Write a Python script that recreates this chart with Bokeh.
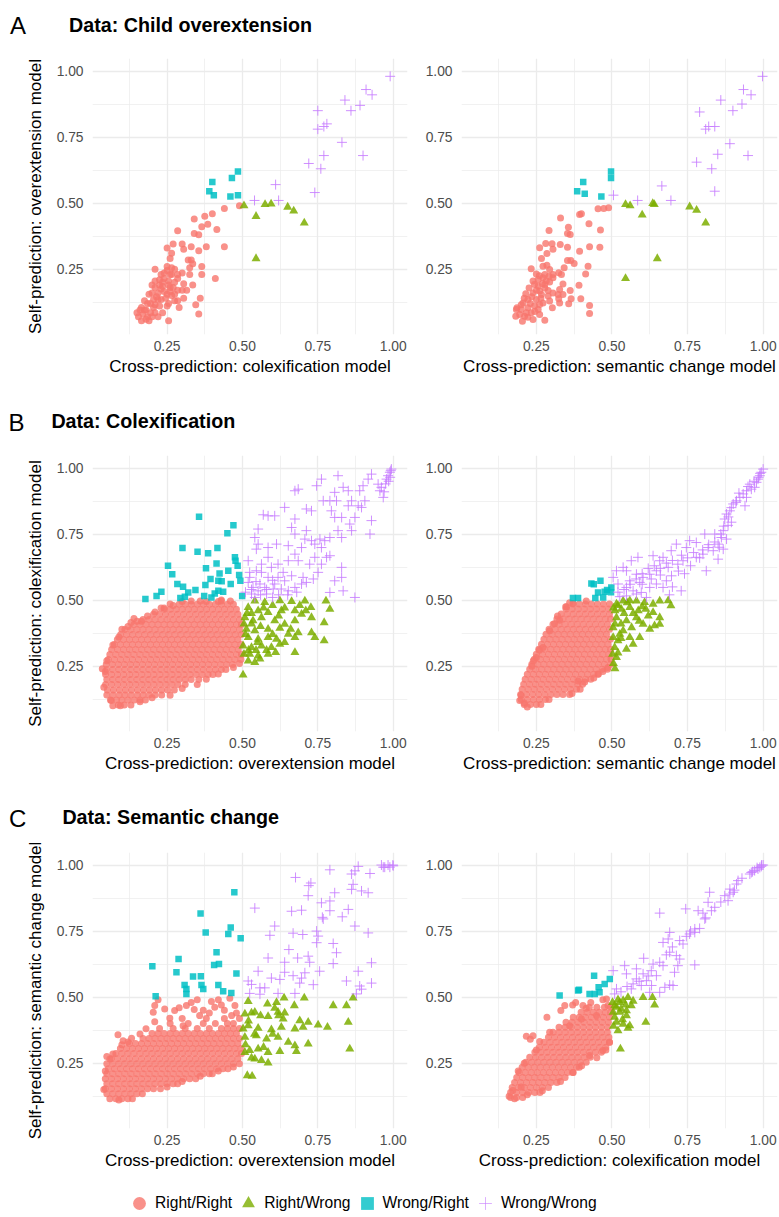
from bokeh.plotting import figure
from bokeh.layouts import column, row
from bokeh.models import Range1d, FixedTicker, PrintfTickFormatter, Legend, LegendItem
from bokeh.core.properties import value
from bokeh.embed import file_html
from bokeh.resources import INLINE

FONT = "Liberation Sans"
COL_RR, COL_RW, COL_WR, COL_WW = "#F8766D", "#7CAE00", "#00BFC4", "#C77CFF"
CATEGORIES = ["Right/Right", "Right/Wrong", "Wrong/Right", "Wrong/Wrong"]
MAJOR_TICKS = [0.25, 0.5, 0.75, 1.0]
MINOR_TICKS = [0.125, 0.375, 0.625, 0.875]

# ---------------- A: Data: Child overextension ----------------
A1_WW = [(0.99,0.98),(0.91,0.93),(0.93,0.91),(0.84,0.89),(0.89,0.87),(0.86,0.85),(0.75,0.85),(0.75,0.78),(0.77,0.79),(0.78,0.80),(0.83,0.73),(0.77,0.68),(0.90,0.68),(0.72,0.65),(0.76,0.63),(0.61,0.57),(0.74,0.54),(0.54,0.51),(0.62,0.51)]
A1_RW = [(0.505,0.49),(0.545,0.45),(0.575,0.495),(0.595,0.497),(0.65,0.485),(0.67,0.47),(0.705,0.425),(0.545,0.29)]
A1_WR = [(0.40,0.58),(0.39,0.545),(0.405,0.53),(0.465,0.595),(0.485,0.62),(0.46,0.525),(0.485,0.53)]
A1_RR = [(0.49,0.49),(0.44,0.48),(0.40,0.46),(0.375,0.45),(0.34,0.44),(0.385,0.42),(0.365,0.41),(0.415,0.40),(0.285,0.395),(0.34,0.385),(0.355,0.38),(0.44,0.335),(0.38,0.335),(0.33,0.335),(0.27,0.345),(0.30,0.345),(0.305,0.325),(0.25,0.33),(0.355,0.32),(0.265,0.31),(0.26,0.29),(0.32,0.285),(0.33,0.285),(0.335,0.27),(0.365,0.26),(0.325,0.255),(0.365,0.23),(0.41,0.215),(0.325,0.23),(0.30,0.235),(0.275,0.25),(0.25,0.26),(0.21,0.25),(0.23,0.23),(0.265,0.23),(0.285,0.23),(0.305,0.195),(0.335,0.19),(0.315,0.17),(0.285,0.17),(0.275,0.155),(0.36,0.14),(0.305,0.14),(0.345,0.115),(0.29,0.105),(0.355,0.08),(0.255,0.055),
         (0.21,0.205),(0.225,0.21),(0.24,0.215),(0.255,0.205),(0.21,0.18),(0.235,0.185),(0.26,0.18),(0.19,0.155),(0.22,0.16),(0.25,0.155),(0.265,0.15),(0.205,0.135),(0.23,0.135),(0.255,0.12),(0.185,0.12),(0.165,0.105),(0.18,0.095),(0.205,0.105),(0.225,0.11),(0.155,0.07),(0.17,0.08),(0.185,0.07),(0.21,0.085),(0.165,0.055),(0.18,0.06),(0.19,0.055),(0.22,0.07),(0.235,0.085),(0.20,0.16),(0.27,0.18),(0.275,0.13),(0.25,0.11),(0.22,0.135),(0.21,0.115),(0.16,0.095),(0.195,0.085),(0.24,0.165),(0.225,0.19),(0.255,0.19),(0.26,0.23),(0.275,0.20),(0.285,0.215),(0.265,0.255),(0.30,0.17),(0.285,0.13),
         (0.24,0.235),(0.25,0.245),(0.235,0.20),(0.245,0.14),(0.195,0.12),(0.175,0.13),(0.215,0.145),(0.26,0.165),(0.23,0.175),(0.20,0.19),(0.175,0.095),(0.15,0.085),(0.20,0.07)]

A2_WW = [(0.998,0.98),(0.935,0.93),(0.96,0.91),(0.86,0.89),(0.93,0.875),(0.90,0.85),(0.79,0.845),(0.81,0.78),(0.82,0.79),(0.84,0.79),(0.89,0.725),(0.85,0.685),(0.95,0.68),(0.78,0.655),(0.83,0.63),(0.665,0.565),(0.84,0.545),(0.505,0.53),(0.585,0.51),(0.695,0.51)]
A2_RW = [(0.545,0.495),(0.56,0.49),(0.60,0.455),(0.635,0.499),(0.64,0.495),(0.757,0.486),(0.78,0.473),(0.81,0.425),(0.65,0.29),(0.545,0.215)]
A2_WR = [(0.405,0.58),(0.385,0.545),(0.41,0.535),(0.497,0.62),(0.497,0.595),(0.465,0.525)]
A2_RR = [(0.489,0.482),(0.473,0.48),(0.454,0.479),(0.393,0.457),(0.399,0.46),(0.33,0.444),(0.356,0.409),(0.424,0.422),(0.462,0.398),(0.292,0.396),(0.353,0.385),(0.362,0.381),(0.46,0.333),(0.426,0.335),(0.353,0.333),(0.281,0.347),(0.302,0.346),(0.305,0.325),(0.261,0.331),(0.329,0.343),(0.393,0.318),(0.285,0.309),(0.267,0.29),(0.353,0.283),(0.364,0.283),(0.375,0.271),(0.421,0.261),(0.342,0.255),(0.413,0.232),(0.391,0.189),(0.333,0.23),(0.324,0.236),(0.294,0.249),(0.272,0.261),(0.233,0.251),(0.25,0.232),(0.305,0.23),(0.292,0.223),(0.338,0.194),(0.327,0.173),(0.362,0.169),(0.289,0.169),(0.322,0.154),(0.397,0.138),(0.365,0.138),(0.426,0.112),(0.303,0.104),(0.426,0.082),(0.278,0.056),(0.357,0.119),(0.327,0.122),
         (0.239,0.205),(0.256,0.211),(0.272,0.217),(0.283,0.205),(0.226,0.179),(0.256,0.186),(0.278,0.179),(0.215,0.157),(0.239,0.16),(0.267,0.154),(0.289,0.148),(0.222,0.135),(0.25,0.135),(0.272,0.122),(0.206,0.122),(0.186,0.104),(0.20,0.097),(0.222,0.104),(0.244,0.11),(0.182,0.072),(0.195,0.078),(0.211,0.072),(0.233,0.085),(0.204,0.053),(0.222,0.068),(0.239,0.059),(0.261,0.078),(0.256,0.097),(0.305,0.16),(0.294,0.129),(0.261,0.116),(0.184,0.097),(0.217,0.085),(0.261,0.167),(0.244,0.192),(0.278,0.192),(0.278,0.23),(0.294,0.201),(0.305,0.217),(0.338,0.154),(0.324,0.138),
         (0.25,0.17),(0.235,0.145),(0.265,0.14),(0.21,0.14),(0.23,0.12),(0.20,0.115),(0.245,0.09),(0.27,0.195),(0.26,0.225),(0.285,0.265)]

# ---------------- B: Data: Colexification ----------------
B1_RR_ROWS = [
    (0.103, [0.088, 0.108, 0.13]),
    (0.122, [0.062, 0.082, 0.1, 0.12, 0.141, 0.16, 0.178]),
    (0.141, [0.05, 0.07, 0.091, 0.11, 0.13, 0.151, 0.17, 0.19, 0.21, 0.232]),
    (0.160, [0.052, 0.072, 0.092, 0.112, 0.132, 0.152, 0.172, 0.192, 0.212, 0.232, 0.252, 0.274]),
    (0.180, [0.046, 0.066, 0.086, 0.106, 0.126, 0.146, 0.166, 0.186, 0.206, 0.226, 0.246, 0.266, 0.286, 0.31]),
    (0.199, [0.05, 0.07, 0.09, 0.11, 0.13, 0.15, 0.17, 0.19, 0.21, 0.23, 0.25, 0.27, 0.29, 0.31, 0.33, 0.355]),
    (0.218, [0.046, 0.066, 0.086, 0.106, 0.126, 0.146, 0.166, 0.186, 0.206, 0.226, 0.246, 0.266, 0.286, 0.306, 0.326, 0.346, 0.366, 0.386, 0.402]),
    (0.237, [0.05, 0.07, 0.09, 0.11, 0.13, 0.15, 0.17, 0.19, 0.21, 0.23, 0.25, 0.27, 0.29, 0.31, 0.33, 0.35, 0.37, 0.39, 0.41, 0.43, 0.445]),
    (0.256, [0.048, 0.068, 0.088, 0.108, 0.128, 0.148, 0.168, 0.188, 0.208, 0.228, 0.248, 0.268, 0.288, 0.308, 0.328, 0.348, 0.368, 0.388, 0.408, 0.428, 0.448, 0.468]),
    (0.275, [0.055, 0.075, 0.095, 0.115, 0.135, 0.155, 0.175, 0.195, 0.215, 0.235, 0.255, 0.275, 0.295, 0.315, 0.335, 0.355, 0.375, 0.395, 0.415, 0.435, 0.455, 0.475, 0.495]),
    (0.294, [0.06, 0.08, 0.1, 0.12, 0.14, 0.16, 0.18, 0.2, 0.22, 0.24, 0.26, 0.28, 0.3, 0.32, 0.34, 0.36, 0.38, 0.4, 0.42, 0.44, 0.46, 0.48, 0.497]),
    (0.313, [0.066, 0.086, 0.106, 0.126, 0.146, 0.166, 0.186, 0.206, 0.226, 0.246, 0.266, 0.286, 0.306, 0.326, 0.346, 0.366, 0.386, 0.406, 0.426, 0.446, 0.466, 0.486]),
    (0.332, [0.075, 0.095, 0.115, 0.135, 0.155, 0.175, 0.195, 0.215, 0.235, 0.255, 0.275, 0.295, 0.315, 0.335, 0.355, 0.375, 0.395, 0.415, 0.435, 0.455, 0.475, 0.495]),
    (0.351, [0.085, 0.105, 0.125, 0.145, 0.165, 0.185, 0.205, 0.225, 0.245, 0.265, 0.285, 0.305, 0.325, 0.345, 0.365, 0.385, 0.405, 0.425, 0.445, 0.465, 0.485]),
    (0.370, [0.096, 0.116, 0.136, 0.156, 0.176, 0.196, 0.216, 0.236, 0.256, 0.276, 0.296, 0.316, 0.336, 0.356, 0.376, 0.396, 0.416, 0.436, 0.456, 0.476, 0.496]),
    (0.389, [0.11, 0.13, 0.15, 0.17, 0.19, 0.21, 0.23, 0.25, 0.27, 0.29, 0.31, 0.33, 0.35, 0.37, 0.39, 0.41, 0.43, 0.45, 0.47, 0.49]),
    (0.408, [0.14, 0.16, 0.18, 0.2, 0.22, 0.24, 0.26, 0.28, 0.3, 0.32, 0.34, 0.36, 0.38, 0.4, 0.42, 0.44, 0.46, 0.48, 0.497]),
    (0.427, [0.17, 0.19, 0.21, 0.23, 0.25, 0.27, 0.29, 0.31, 0.33, 0.35, 0.37, 0.39, 0.41, 0.43, 0.45, 0.47, 0.49]),
    (0.446, [0.205, 0.225, 0.245, 0.265, 0.285, 0.305, 0.325, 0.345, 0.365, 0.385, 0.405, 0.425, 0.445, 0.465, 0.485]),
    (0.465, [0.24, 0.26, 0.28, 0.3, 0.32, 0.34, 0.36, 0.38, 0.4, 0.42, 0.44, 0.46, 0.48]),
    (0.484, [0.29, 0.31, 0.33, 0.35, 0.37, 0.39, 0.41, 0.43, 0.45, 0.47]),
]
B1_RR_EXTRA = [(0.10,0.39),(0.15,0.42),(0.165,0.42),(0.24,0.47),(0.27,0.48),(0.36,0.497),(0.42,0.495),(0.05,0.27),(0.045,0.23),(0.07,0.33),(0.09,0.36),(0.095,0.10),(0.065,0.12),(0.43,0.497),
               (0.12,0.40),(0.13,0.415),(0.185,0.44),(0.21,0.455),(0.23,0.47),(0.26,0.485),(0.30,0.495),(0.33,0.497),(0.38,0.495),(0.46,0.497),(0.07,0.10),(0.16,0.115),(0.20,0.13),(0.26,0.14),(0.30,0.165),(0.35,0.18),(0.38,0.20),(0.42,0.22),(0.47,0.245),(0.49,0.26),(0.04,0.17),(0.035,0.24),(0.14,0.43),(0.43,0.50)]
B1_RW = [(0.541,0.497),(0.574,0.491),(0.624,0.498),(0.663,0.495),(0.707,0.497),(0.727,0.472),(0.777,0.497),(0.79,0.466),(0.519,0.472),(0.552,0.46),(0.585,0.453),(0.629,0.46),(0.674,0.46),(0.696,0.447),(0.508,0.434),(0.535,0.422),(0.563,0.434),(0.607,0.422),(0.64,0.409),(0.674,0.422),(0.729,0.434),(0.771,0.415),(0.513,0.39),(0.541,0.384),(0.585,0.39),(0.624,0.394),(0.652,0.371),(0.685,0.377),(0.729,0.377),(0.519,0.359),(0.552,0.352),(0.585,0.359),(0.613,0.352),(0.64,0.34),(0.674,0.359),(0.74,0.359),(0.771,0.346),(0.502,0.327),(0.53,0.321),(0.563,0.327),(0.596,0.321),(0.624,0.333),(0.505,0.295),(0.524,0.295),(0.552,0.289),(0.585,0.295),(0.61,0.302),(0.674,0.302),(0.519,0.27),(0.541,0.264),(0.558,0.277),(0.502,0.217),(0.53,0.45),(0.56,0.40),(0.60,0.37),(0.62,0.44),(0.66,0.39),(0.55,0.34),(0.58,0.31),(0.51,0.37),(0.53,0.41),(0.69,0.48),(0.71,0.46),(0.64,0.47),(0.515,0.45),(0.57,0.47),(0.60,0.48),(0.505,0.41),(0.52,0.31),(0.545,0.31)]
B1_WR = [(0.356,0.816),(0.47,0.783),(0.45,0.753),(0.301,0.697),(0.351,0.683),(0.386,0.677),(0.417,0.697),(0.253,0.63),(0.267,0.598),(0.475,0.662),(0.477,0.649),(0.484,0.63),(0.414,0.639),(0.453,0.611),(0.379,0.621),(0.424,0.601),(0.394,0.58),(0.42,0.573),(0.431,0.571),(0.489,0.595),(0.493,0.573),(0.461,0.561),(0.284,0.561),(0.303,0.551),(0.377,0.557),(0.344,0.538),(0.32,0.529),(0.231,0.532),(0.215,0.516),(0.178,0.504),(0.294,0.508),(0.309,0.513),(0.373,0.516),(0.408,0.525),(0.42,0.535),(0.436,0.532),(0.499,0.516),(0.397,0.51)]
B1_WW = [(0.994,0.996),(0.989,0.984),(0.983,0.971),(0.992,0.99),(0.978,0.958),(0.961,0.927),(0.956,0.914),(0.967,0.889),(0.95,0.939),(0.928,0.977),(0.917,0.958),(0.90,0.933),(0.889,0.914),(0.906,0.876),(0.884,0.857),(0.873,0.813),(0.856,0.788),(0.862,0.876),(0.851,0.914),(0.834,0.927),(0.817,0.971),(0.806,0.908),(0.79,0.876),(0.795,0.838),(0.806,0.813),(0.768,0.876),(0.762,0.958),(0.746,0.933),(0.729,0.838),(0.712,0.845),(0.817,0.763),(0.829,0.737),(0.79,0.737),(0.773,0.725),(0.779,0.662),(0.79,0.668),(0.762,0.636),(0.74,0.662),(0.723,0.636),(0.751,0.605),(0.735,0.58),(0.712,0.567),(0.696,0.561),(0.674,0.75),(0.663,0.775),(0.674,0.807),(0.674,0.914),(0.685,0.92),(0.64,0.851),(0.607,0.819),(0.585,0.819),(0.569,0.823),(0.552,0.769),(0.541,0.737),(0.546,0.693),(0.552,0.712),(0.585,0.699),(0.613,0.712),(0.652,0.706),(0.674,0.674),(0.696,0.699),(0.707,0.731),(0.712,0.763),(0.618,0.636),(0.635,0.605),(0.652,0.649),(0.663,0.592),(0.674,0.548),(0.652,0.535),(0.629,0.542),(0.607,0.561),(0.585,0.586),(0.574,0.548),(0.552,0.535),(0.53,0.523),(0.535,0.548),(0.519,0.567),(0.546,0.611),(0.563,0.605),(0.585,0.662),(0.596,0.624),(0.618,0.586),(0.602,0.542),(0.58,0.523),(0.558,0.561),(0.524,0.605),(0.519,0.649),(0.64,0.573),(0.829,0.624),(0.829,0.586),(0.806,0.573),(0.79,0.529),(0.834,0.535),(0.873,0.51),(0.762,0.699),(0.685,0.649),(0.563,0.636),(0.524,0.586),(0.541,0.51),(0.701,0.586),(0.729,0.725),(0.923,0.75),(0.928,0.801),(0.895,0.851),(0.862,0.763),(0.829,0.813),(0.812,0.876),(0.851,0.857),(0.757,0.731),(0.74,0.712),(0.53,0.54),(0.56,0.52),(0.60,0.51),(0.62,0.52),(0.58,0.54),(0.65,0.52),(0.68,0.53),(0.51,0.53),(0.545,0.57),(0.60,0.575),(0.985,0.95),(0.99,0.965),(0.975,0.94),(0.97,0.91)]

B2_RR_ROWS = [
    (0.105, [0.21, 0.23, 0.25, 0.265]),
    (0.124, [0.2, 0.22, 0.24, 0.26, 0.28, 0.292]),
    (0.143, [0.198, 0.218, 0.238, 0.258, 0.278, 0.298, 0.318, 0.338, 0.36]),
    (0.162, [0.203, 0.223, 0.243, 0.263, 0.283, 0.303, 0.323, 0.343, 0.363, 0.383, 0.395]),
    (0.181, [0.208, 0.228, 0.248, 0.268, 0.288, 0.308, 0.328, 0.348, 0.368, 0.388, 0.403]),
    (0.200, [0.213, 0.233, 0.253, 0.273, 0.293, 0.313, 0.333, 0.353, 0.373, 0.393, 0.413, 0.43]),
    (0.219, [0.22, 0.24, 0.26, 0.28, 0.3, 0.32, 0.34, 0.36, 0.38, 0.4, 0.42, 0.44, 0.455]),
    (0.238, [0.228, 0.248, 0.268, 0.288, 0.308, 0.328, 0.348, 0.368, 0.388, 0.408, 0.428, 0.448, 0.468, 0.485]),
    (0.257, [0.235, 0.255, 0.275, 0.295, 0.315, 0.335, 0.355, 0.375, 0.395, 0.415, 0.435, 0.455, 0.475, 0.495]),
    (0.276, [0.243, 0.263, 0.283, 0.303, 0.323, 0.343, 0.363, 0.383, 0.403, 0.423, 0.443, 0.463, 0.483, 0.497]),
    (0.295, [0.25, 0.27, 0.29, 0.31, 0.33, 0.35, 0.37, 0.39, 0.41, 0.43, 0.45, 0.47, 0.49]),
    (0.314, [0.258, 0.278, 0.298, 0.318, 0.338, 0.358, 0.378, 0.398, 0.418, 0.438, 0.458, 0.478, 0.496]),
    (0.333, [0.267, 0.287, 0.307, 0.327, 0.347, 0.367, 0.387, 0.407, 0.427, 0.447, 0.467, 0.487]),
    (0.352, [0.275, 0.295, 0.315, 0.335, 0.355, 0.375, 0.395, 0.415, 0.435, 0.455, 0.475, 0.495]),
    (0.371, [0.282, 0.302, 0.322, 0.342, 0.362, 0.382, 0.402, 0.422, 0.442, 0.462, 0.482]),
    (0.390, [0.292, 0.312, 0.332, 0.352, 0.372, 0.392, 0.412, 0.432, 0.452, 0.472, 0.492]),
    (0.409, [0.305, 0.325, 0.345, 0.365, 0.385, 0.405, 0.425, 0.445, 0.465, 0.485]),
    (0.428, [0.318, 0.338, 0.358, 0.378, 0.398, 0.418, 0.438, 0.458, 0.478, 0.496]),
    (0.447, [0.332, 0.352, 0.372, 0.392, 0.412, 0.432, 0.452, 0.472, 0.492]),
    (0.466, [0.348, 0.368, 0.388, 0.408, 0.428, 0.448, 0.468, 0.488]),
    (0.485, [0.372, 0.392, 0.412, 0.432, 0.452, 0.472, 0.492]),
]
B2_RR_EXTRA = [(0.20,0.14),(0.21,0.11),(0.368,0.146),(0.454,0.22),(0.487,0.245),(0.35,0.475),(0.371,0.487),(0.415,0.497),(0.388,0.194),(0.25,0.283),(0.272,0.321),(0.294,0.384),(0.327,0.424),(0.347,0.475),(0.195,0.12),(0.22,0.095),(0.235,0.25),(0.24,0.27),(0.26,0.31),(0.31,0.41),(0.32,0.44),(0.36,0.49),(0.44,0.205),(0.41,0.19),(0.47,0.23)]
B2_RW = [(0.515,0.485),(0.537,0.497),(0.559,0.498),(0.581,0.497),(0.608,0.491),(0.636,0.485),(0.658,0.497),(0.686,0.498),(0.695,0.479),(0.51,0.46),(0.531,0.466),(0.559,0.472),(0.587,0.46),(0.612,0.466),(0.636,0.453),(0.658,0.434),(0.515,0.434),(0.548,0.422),(0.581,0.434),(0.603,0.409),(0.625,0.39),(0.641,0.403),(0.658,0.409),(0.504,0.396),(0.537,0.384),(0.565,0.396),(0.592,0.359),(0.57,0.333),(0.548,0.314),(0.52,0.346),(0.504,0.359),(0.509,0.321),(0.515,0.283),(0.559,0.359),(0.526,0.371),(0.502,0.295),(0.52,0.48),(0.54,0.45),(0.57,0.45),(0.60,0.475),(0.62,0.44),(0.53,0.41),(0.505,0.47),(0.55,0.49),(0.59,0.42),(0.51,0.41),(0.53,0.355),(0.52,0.30),(0.505,0.26),(0.51,0.24)]
B2_WR = [(0.432,0.563),(0.462,0.573),(0.454,0.529),(0.476,0.532),(0.498,0.548),(0.497,0.53),(0.371,0.508),(0.388,0.508),(0.445,0.508),(0.471,0.51),(0.484,0.538),(0.44,0.56)]
B2_WW = [(1.0,0.996),(0.994,0.984),(0.989,0.971),(0.983,0.958),(0.978,0.946),(0.972,0.927),(0.961,0.92),(0.945,0.914),(0.934,0.902),(0.923,0.889),(0.912,0.876),(0.901,0.864),(0.94,0.857),(0.89,0.838),(0.879,0.826),(0.873,0.807),(0.895,0.795),(0.884,0.783),(0.868,0.763),(0.862,0.737),(0.879,0.731),(0.851,0.712),(0.868,0.693),(0.835,0.687),(0.818,0.699),(0.801,0.674),(0.807,0.75),(0.812,0.611),(0.851,0.655),(0.779,0.662),(0.757,0.725),(0.746,0.699),(0.735,0.649),(0.729,0.535),(0.718,0.636),(0.696,0.687),(0.669,0.662),(0.686,0.624),(0.697,0.592),(0.68,0.573),(0.658,0.649),(0.647,0.611),(0.636,0.668),(0.625,0.598),(0.603,0.586),(0.592,0.567),(0.586,0.662),(0.564,0.649),(0.548,0.611),(0.537,0.624),(0.515,0.611),(0.504,0.586),(0.52,0.561),(0.548,0.548),(0.57,0.535),(0.581,0.523),(0.548,0.516),(0.526,0.513),(0.597,0.529),(0.625,0.548),(0.647,0.561),(0.669,0.548),(0.614,0.51),(0.559,0.573),(0.581,0.598),(0.713,0.712),(0.779,0.718),(0.84,0.75),(0.956,0.939),(0.945,0.889),
         (0.99,0.98),(0.985,0.965),(0.97,0.95),(0.95,0.93),(0.92,0.905),(0.91,0.87),(0.895,0.85),(0.885,0.815),(0.87,0.78),(0.86,0.75),(0.855,0.70),(0.84,0.72),(0.82,0.71),(0.80,0.69),(0.79,0.66),(0.77,0.68),(0.75,0.66),(0.73,0.67),(0.70,0.65),(0.68,0.64),(0.66,0.62),(0.64,0.63),(0.62,0.62),(0.60,0.60),(0.58,0.58),(0.56,0.56),(0.54,0.54),(0.52,0.53),(0.60,0.56),(0.63,0.58),(0.66,0.595),(0.72,0.61),(0.74,0.60),(0.76,0.63),(0.70,0.55),(0.69,0.52)]

# ---------------- C: Data: Semantic change ----------------
C1_RR_ROWS = [
    (0.115, [0.06, 0.08, 0.1, 0.12, 0.135]),
    (0.134, [0.05, 0.07, 0.09, 0.11, 0.13, 0.15, 0.168]),
    (0.153, [0.045, 0.065, 0.085, 0.105, 0.125, 0.145, 0.165, 0.185, 0.205, 0.228]),
    (0.172, [0.05, 0.07, 0.09, 0.11, 0.13, 0.15, 0.17, 0.19, 0.21, 0.23, 0.25, 0.27, 0.285]),
    (0.191, [0.045, 0.065, 0.085, 0.105, 0.125, 0.145, 0.165, 0.185, 0.205, 0.225, 0.245, 0.265, 0.285, 0.305, 0.325, 0.345]),
    (0.210, [0.05, 0.07, 0.09, 0.11, 0.13, 0.15, 0.17, 0.19, 0.21, 0.23, 0.25, 0.27, 0.29, 0.31, 0.33, 0.35, 0.37, 0.39, 0.40]),
    (0.229, [0.055, 0.075, 0.095, 0.115, 0.135, 0.155, 0.175, 0.195, 0.215, 0.235, 0.255, 0.275, 0.295, 0.315, 0.335, 0.355, 0.375, 0.395, 0.415, 0.435, 0.452]),
    (0.248, [0.05, 0.07, 0.09, 0.11, 0.13, 0.15, 0.17, 0.19, 0.21, 0.23, 0.25, 0.27, 0.29, 0.31, 0.33, 0.35, 0.37, 0.39, 0.41, 0.43, 0.45, 0.47, 0.49]),
    (0.267, [0.065, 0.085, 0.105, 0.125, 0.145, 0.165, 0.185, 0.205, 0.225, 0.245, 0.265, 0.285, 0.305, 0.325, 0.345, 0.365, 0.385, 0.405, 0.425, 0.445, 0.465, 0.485]),
    (0.286, [0.08, 0.1, 0.12, 0.14, 0.16, 0.18, 0.2, 0.22, 0.24, 0.26, 0.28, 0.3, 0.32, 0.34, 0.36, 0.38, 0.4, 0.42, 0.44, 0.46, 0.48, 0.497]),
    (0.305, [0.095, 0.115, 0.135, 0.155, 0.175, 0.195, 0.215, 0.235, 0.255, 0.275, 0.295, 0.315, 0.335, 0.355, 0.375, 0.395, 0.415, 0.435, 0.455, 0.475, 0.495]),
    (0.324, [0.125, 0.145, 0.165, 0.185, 0.205, 0.225, 0.245, 0.265, 0.285, 0.305, 0.325, 0.345, 0.365, 0.385, 0.405, 0.425, 0.445, 0.465, 0.485]),
    (0.343, [0.17, 0.19, 0.21, 0.23, 0.25, 0.27, 0.29, 0.31, 0.33, 0.35, 0.37, 0.39, 0.41, 0.43, 0.45, 0.47, 0.49]),
    (0.362, [0.2, 0.22, 0.24, 0.26, 0.28, 0.3, 0.32, 0.34, 0.36, 0.38, 0.4, 0.42, 0.44, 0.46, 0.48]),
    (0.381, [0.225, 0.27, 0.31, 0.35, 0.39, 0.43, 0.45, 0.47, 0.49]),
    (0.400, [0.26, 0.32, 0.37, 0.41, 0.45, 0.47]),
    (0.419, [0.30, 0.38, 0.44, 0.49]),
]
C1_RR_EXTRA = [(0.209,0.468),(0.204,0.443),(0.242,0.455),(0.275,0.449),(0.314,0.468),(0.34,0.453),(0.358,0.43),(0.397,0.483),(0.408,0.462),(0.458,0.496),(0.475,0.468),(0.464,0.43),(0.209,0.407),(0.259,0.42),(0.303,0.392),(0.22,0.49),(0.29,0.46),(0.33,0.48),(0.37,0.45),(0.43,0.47),(0.44,0.45),(0.48,0.44),(0.39,0.44),(0.42,0.49),(0.35,0.49),(0.087,0.357),(0.104,0.335),(0.132,0.344),(0.06,0.266),(0.05,0.275),(0.10,0.32),(0.12,0.33),(0.07,0.285),(0.16,0.36),(0.18,0.38),(0.04,0.15),(0.045,0.22),(0.09,0.11),(0.25,0.16),(0.30,0.18),(0.36,0.20),(0.42,0.22),(0.47,0.235)]
C1_RW = [(0.519,0.484),(0.583,0.474),(0.613,0.48),(0.638,0.497),(0.672,0.468),(0.705,0.497),(0.801,0.468),(0.845,0.468),(0.867,0.497),(0.508,0.436),(0.541,0.443),(0.585,0.427),(0.618,0.443),(0.635,0.417),(0.607,0.458),(0.69,0.411),(0.718,0.405),(0.751,0.395),(0.782,0.386),(0.851,0.405),(0.519,0.392),(0.552,0.382),(0.596,0.377),(0.629,0.386),(0.674,0.38),(0.701,0.386),(0.508,0.348),(0.546,0.354),(0.58,0.342),(0.618,0.348),(0.674,0.316),(0.718,0.323),(0.652,0.329),(0.524,0.298),(0.552,0.304),(0.585,0.291),(0.624,0.294),(0.679,0.294),(0.541,0.266),(0.563,0.26),(0.585,0.251),(0.856,0.304),(0.516,0.203),(0.532,0.201),(0.508,0.291),(0.502,0.38),(0.53,0.44),(0.56,0.43),(0.52,0.41),(0.54,0.36),(0.51,0.32),(0.53,0.27),(0.60,0.36),(0.57,0.31),(0.62,0.43),(0.64,0.44)]
C1_WR = [(0.473,0.897),(0.361,0.817),(0.378,0.745),(0.461,0.764),(0.453,0.739),(0.494,0.723),(0.414,0.67),(0.406,0.622),(0.422,0.625),(0.201,0.617),(0.288,0.644),(0.281,0.594),(0.48,0.589),(0.336,0.578),(0.362,0.579),(0.308,0.546),(0.364,0.546),(0.37,0.531),(0.314,0.531),(0.314,0.512),(0.42,0.546),(0.436,0.522),(0.463,0.516),(0.212,0.503)]
C1_WW = [(0.961,1.0),(0.983,1.0),(0.999,1.0),(0.972,0.992),(0.989,0.992),(1.0,0.997),(0.967,0.992),(0.79,0.982),(0.884,0.995),(0.873,0.978),(0.923,0.968),(0.862,0.966),(0.676,0.953),(0.727,0.932),(0.72,0.922),(0.867,0.927),(0.862,0.908),(0.895,0.902),(0.917,0.895),(0.806,0.895),(0.79,0.864),(0.762,0.857),(0.851,0.832),(0.831,0.804),(0.79,0.827),(0.765,0.802),(0.768,0.796),(0.718,0.884),(0.541,0.837),(0.663,0.825),(0.696,0.829),(0.873,0.769),(0.917,0.743),(0.607,0.769),(0.591,0.734),(0.668,0.742),(0.70,0.737),(0.746,0.75),(0.751,0.731),(0.746,0.706),(0.801,0.703),(0.812,0.668),(0.654,0.68),(0.718,0.655),(0.683,0.648),(0.585,0.648),(0.64,0.632),(0.723,0.632),(0.801,0.627),(0.928,0.63),(0.756,0.598),(0.64,0.594),(0.552,0.598),(0.707,0.592),(0.884,0.598),(0.668,0.581),(0.696,0.572),(0.596,0.572),(0.519,0.561),(0.624,0.567),(0.69,0.553),(0.735,0.547),(0.845,0.561),(0.928,0.553),(0.889,0.542),(0.895,0.53),(0.53,0.548),(0.558,0.535),(0.574,0.535),(0.674,0.514),(0.618,0.514),(0.558,0.511),(0.524,0.514),(0.878,0.512)]

C2_RR_ROWS = [
    (0.120, [0.165, 0.185, 0.205]),
    (0.139, [0.165, 0.185, 0.205, 0.225, 0.245, 0.262]),
    (0.158, [0.17, 0.19, 0.21, 0.23, 0.25, 0.27, 0.29]),
    (0.177, [0.178, 0.198, 0.218, 0.238, 0.258, 0.278, 0.298, 0.318]),
    (0.196, [0.185, 0.205, 0.225, 0.245, 0.265, 0.285, 0.305, 0.325, 0.345]),
    (0.215, [0.193, 0.213, 0.233, 0.253, 0.273, 0.293, 0.313, 0.333, 0.353, 0.372]),
    (0.234, [0.203, 0.223, 0.243, 0.263, 0.283, 0.303, 0.323, 0.343, 0.363, 0.383, 0.392]),
    (0.253, [0.215, 0.235, 0.255, 0.275, 0.295, 0.315, 0.335, 0.355, 0.375, 0.395, 0.415]),
    (0.272, [0.228, 0.248, 0.268, 0.288, 0.308, 0.328, 0.348, 0.368, 0.388, 0.408, 0.428]),
    (0.291, [0.245, 0.265, 0.285, 0.305, 0.325, 0.345, 0.365, 0.385, 0.405, 0.425, 0.445, 0.465]),
    (0.310, [0.26, 0.28, 0.3, 0.32, 0.34, 0.36, 0.38, 0.4, 0.42, 0.44, 0.46, 0.48]),
    (0.329, [0.275, 0.295, 0.315, 0.335, 0.355, 0.375, 0.395, 0.415, 0.435, 0.455, 0.475, 0.492]),
    (0.348, [0.29, 0.31, 0.33, 0.35, 0.37, 0.39, 0.41, 0.43, 0.45, 0.47, 0.49]),
    (0.367, [0.305, 0.325, 0.345, 0.365, 0.385, 0.405, 0.425, 0.445, 0.465, 0.485]),
    (0.386, [0.325, 0.345, 0.365, 0.385, 0.405, 0.425, 0.445, 0.465, 0.485]),
    (0.405, [0.348, 0.368, 0.388, 0.408, 0.428, 0.448, 0.468, 0.488]),
    (0.424, [0.372, 0.392, 0.412, 0.432, 0.452, 0.472, 0.492]),
    (0.443, [0.398, 0.418, 0.438, 0.458, 0.478, 0.496]),
    (0.462, [0.425, 0.45, 0.475, 0.495]),
]
C2_RR_EXTRA = [(0.16,0.125),(0.178,0.115),(0.172,0.146),(0.217,0.352),(0.239,0.354),(0.261,0.332),(0.285,0.424),(0.331,0.449),(0.344,0.468),(0.404,0.468),(0.415,0.458),(0.482,0.493),(0.487,0.468),(0.294,0.367),(0.36,0.392),(0.399,0.417),(0.449,0.43),(0.492,0.329),(0.47,0.298),(0.426,0.279),(0.37,0.47),(0.38,0.48),(0.43,0.48),(0.47,0.49),(0.23,0.34),(0.25,0.30),(0.21,0.25),(0.19,0.22),(0.2,0.16),(0.22,0.13),(0.27,0.145),(0.33,0.18),(0.37,0.215),(0.40,0.24),(0.45,0.27),(0.48,0.30)]
C2_RW = [(0.502,0.48),(0.509,0.468),(0.526,0.48),(0.537,0.487),(0.553,0.499),(0.564,0.468),(0.603,0.499),(0.634,0.499),(0.641,0.47),(0.504,0.443),(0.526,0.443),(0.548,0.449),(0.515,0.405),(0.537,0.398),(0.559,0.392),(0.612,0.405),(0.52,0.373),(0.553,0.382),(0.528,0.304),(0.509,0.424),(0.548,0.43),(0.515,0.462),(0.53,0.455),(0.545,0.47),(0.52,0.49),(0.57,0.485),(0.505,0.39),(0.535,0.415)]
C2_WR = [(0.441,0.581),(0.493,0.569),(0.476,0.55),(0.456,0.537),(0.459,0.518),(0.443,0.512),(0.426,0.512),(0.388,0.525),(0.391,0.528),(0.327,0.506)]
C2_WW = [(1.0,1.0),(0.994,0.995),(0.989,0.991),(0.983,0.985),(0.972,0.979),(0.961,0.972),(0.956,0.966),(0.917,0.941),(0.912,0.928),(0.901,0.897),(0.89,0.89),(0.873,0.884),(0.884,0.865),(0.823,0.897),(0.818,0.859),(0.829,0.827),(0.807,0.796),(0.801,0.818),(0.744,0.834),(0.785,0.827),(0.658,0.818),(0.774,0.758),(0.774,0.745),(0.757,0.739),(0.746,0.73),(0.691,0.745),(0.686,0.72),(0.669,0.707),(0.724,0.714),(0.735,0.701),(0.691,0.67),(0.713,0.657),(0.724,0.644),(0.718,0.619),(0.707,0.594),(0.774,0.622),(0.658,0.632),(0.669,0.619),(0.636,0.625),(0.605,0.647),(0.542,0.619),(0.581,0.607),(0.581,0.569),(0.603,0.588),(0.614,0.562),(0.631,0.544),(0.647,0.581),(0.658,0.518),(0.702,0.544),(0.691,0.546),(0.675,0.537),(0.625,0.518),(0.597,0.544),(0.564,0.531),(0.515,0.531),(0.509,0.512),(0.504,0.60),(0.548,0.588),(0.89,0.909),(0.995,1.0),(0.98,0.99),(0.965,0.975),(0.93,0.95),(0.905,0.905),(0.86,0.86),(0.84,0.84),(0.81,0.80),(0.79,0.76),(0.76,0.75),(0.70,0.69),(0.68,0.66),(0.63,0.60),(0.62,0.58),(0.59,0.56),(0.57,0.55),(0.55,0.54),(0.53,0.52)]

X_LABELS = {
    "A1": "Cross-prediction: colexification model", "A2": "Cross-prediction: semantic change model",
    "B1": "Cross-prediction: overextension model", "B2": "Cross-prediction: semantic change model",
    "C1": "Cross-prediction: overextension model", "C2": "Cross-prediction: colexification model",
}
Y_LABELS = {"A": "Self-prediction: overextension model", "B": "Self-prediction: colexification model",
            "C": "Self-prediction: semantic change model"}
TITLES = {"A": "Data: Child overextension", "B": "Data: Colexification", "C": "Data: Semantic change"}


def split(pts):
    return [p[0] for p in pts], [p[1] for p in pts]


def from_rows(rows, extra):
    xs, ys = [], []
    for yv, xr in rows:
        for xv in xr:
            xs.append(xv)
            ys.append(yv)
    ex, ey = split(extra)
    return xs + ex, ys + ey


def style_axis(ax, label):
    ax.axis_label = label
    ax.axis_label_text_font = FONT
    ax.axis_label_text_font_size = "17px"
    ax.axis_label_text_font_style = "normal"
    ax.axis_label_text_color = "black"
    ax.major_label_text_font = FONT
    ax.major_label_text_font_size = "13.8px"
    ax.major_label_text_color = "#4D4D4D"
    ax.axis_line_color = None
    ax.major_tick_line_color = None
    ax.minor_tick_line_color = None
    ax.major_tick_out = 0
    ax.minor_tick_out = 0
    ax.formatter = PrintfTickFormatter(format="%.2f")


def make_panel(width, left, right, bottom, xlab, ylab, rr, rw, wr, ww):
    p = figure(width=width, height=9 + 276 + bottom,
               x_range=Range1d(0.0025, 1.0475), y_range=Range1d(0.0025, 1.0475),
               output_backend="svg", toolbar_location=None,
               min_border_left=left, min_border_right=right, min_border_top=9, min_border_bottom=bottom)
    p.outline_line_color = None
    p.background_fill_color = "white"
    for ax, grid, lab in ((p.xaxis[0], p.xgrid[0], xlab), (p.yaxis[0], p.ygrid[0], ylab)):
        tk = FixedTicker(ticks=MAJOR_TICKS, minor_ticks=MINOR_TICKS)
        ax.ticker = tk
        grid.ticker = tk
        grid.grid_line_color = "#EBEBEB"
        grid.grid_line_width = 1.3
        grid.minor_grid_line_color = "#EBEBEB"
        grid.minor_grid_line_width = 0.7
        style_axis(ax, lab)
    p.xaxis.major_label_standoff = 6
    p.xaxis.axis_label_standoff = 3
    p.yaxis.major_label_standoff = 9
    p.yaxis.axis_label_standoff = 9
    x, y = rr
    p.scatter(x, y, marker="circle", size=7, fill_color=COL_RR, fill_alpha=0.8, line_color=None)
    x, y = rw
    p.scatter(x, y, marker="triangle", size=9, fill_color=COL_RW, fill_alpha=0.85, line_color=None)
    x, y = wr
    p.scatter(x, y, marker="square", size=6.5, fill_color=COL_WR, fill_alpha=0.85, line_color=None)
    x, y = ww
    p.scatter(x, y, marker="cross", size=10, line_color=COL_WW, line_alpha=0.85, line_width=1)
    return p


def make_header(letter, title, letter_x, title_x, letter_base, title_base):
    h = figure(width=779, height=49, x_range=Range1d(0, 779), y_range=Range1d(49, 0),
               output_backend="svg", toolbar_location=None, x_axis_type=None, y_axis_type=None, min_border=0)
    h.outline_line_color = None
    h.text(x=[letter_x], y=[letter_base], text=[letter], text_font=value(FONT), text_font_size="24px",
           text_baseline="alphabetic", text_align="left", text_color="black")
    h.text(x=[title_x], y=[title_base], text=[title], text_font=value(FONT), text_font_size="19.7px",
           text_font_style="bold", text_baseline="alphabetic", text_align="left", text_color="black")
    return h


def make_row(key, d1, d2, bottom):
    left_fig = make_panel(420, 92, 13, bottom, X_LABELS[key + "1"], Y_LABELS[key], *d1)
    right_fig = make_panel(359, 41, 2, bottom, X_LABELS[key + "2"], None, *d2)
    return row(left_fig, right_fig)


dA1 = (split(A1_RR), split(A1_RW), split(A1_WR), split(A1_WW))
dA2 = (split(A2_RR), split(A2_RW), split(A2_WR), split(A2_WW))
dB1 = (from_rows(B1_RR_ROWS, B1_RR_EXTRA), split(B1_RW), split(B1_WR), split(B1_WW))
dB2 = (from_rows(B2_RR_ROWS, B2_RR_EXTRA), split(B2_RW), split(B2_WR), split(B2_WW))
dC1 = (from_rows(C1_RR_ROWS, C1_RR_EXTRA), split(C1_RW), split(C1_WR), split(C1_WW))
dC2 = (from_rows(C2_RR_ROWS, C2_RR_EXTRA), split(C2_RW), split(C2_WR), split(C2_WW))

hA = make_header("A", TITLES["A"], 9.5, 68.6, 25, 24)
hB = make_header("B", TITLES["B"], 8, 50.9, 24.7, 23.7)
hC = make_header("C", TITLES["C"], 8.5, 61.9, 23.6, 22.7)
rA = make_row("A", dA1, dA2, 63)
rB = make_row("B", dB1, dB2, 63)
rC = make_row("C", dC1, dC2, 50)

# legend strip
lg = figure(width=779, height=39, x_range=Range1d(0, 1), y_range=Range1d(0, 1),
            output_backend="svg", toolbar_location=None, x_axis_type=None, y_axis_type=None, min_border=0)
lg.outline_line_color = None
g1 = lg.scatter(x=[-5], y=[-5], marker="circle", fill_color=COL_RR, fill_alpha=0.8, line_color=None)
g2 = lg.scatter(x=[-5], y=[-5], marker="triangle", fill_color=COL_RW, fill_alpha=0.8, line_color=None)
g3 = lg.scatter(x=[-5], y=[-5], marker="square", fill_color=COL_WR, fill_alpha=0.8, line_color=None)
g4 = lg.scatter(x=[-5], y=[-5], marker="cross", line_color=COL_WW, line_alpha=0.6, line_width=1)
legend = Legend(items=[LegendItem(label=CATEGORIES[0], renderers=[g1]),
                       LegendItem(label=CATEGORIES[1], renderers=[g2]),
                       LegendItem(label=CATEGORIES[2], renderers=[g3]),
                       LegendItem(label=CATEGORIES[3], renderers=[g4])],
                location=(123, -2), orientation="horizontal", glyph_width=32, glyph_height=32,
                label_standoff=0, spacing=0, padding=0, margin=0, border_line_color=None,
                background_fill_alpha=0, label_text_font=FONT, label_text_font_size="15.6px",
                label_text_color="black")
lg.add_layout(legend)

page = column(hA, rA, hB, rB, hC, rC, lg)
open("out.html", "w").write(file_html(page, INLINE))
